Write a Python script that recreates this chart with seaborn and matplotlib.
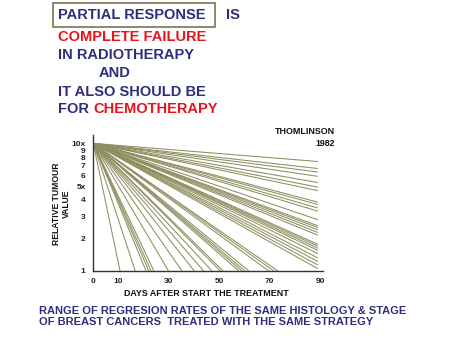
import numpy as np
import pandas as pd
import matplotlib
matplotlib.use("Agg")
import matplotlib.pyplot as plt
from matplotlib.patches import Rectangle
from matplotlib.ticker import NullLocator
import seaborn as sns

# Regression curves: every tumour starts at 10x on day 0.
# Slow responders: value still reached on day 89
end_day_right = 89
right_end_values = [7.5, 6.7, 6.33, 5.9, 5.33, 4.94, 4.66, 3.84, 3.69, 3.47, 3.29,
                    2.83, 2.54, 2.46, 2.36, 2.25, 2.14, 1.8, 1.74, 1.67, 1.6, 1.5,
                    1.37, 1.27, 1.17, 1.07]
# Fast responders: day on which the relative value falls to 1
days_to_one = [10.6, 16.6, 20.9, 22.0, 22.9, 24.0, 29.8, 35.1, 40.0, 43.7, 47.0,
               50.3, 51.4, 57.6, 58.9, 60.1, 61.6, 69.5, 71.5, 73.1]
start_value = 10

y_ticks = [1, 2, 3, 4, 5, 6, 7, 8, 9, 10]
y_ticklabels = ["1", "2", "3", "4", "5x", "6", "7", "8", "9", "10x"]
x_ticks = [0, 10, 20, 30, 40, 50, 60, 70, 80, 90]
x_ticklabels = ["0", "10", "", "30", "", "50", "", "70", "", "90"]

rows = []
lid = 0
for v in right_end_values:
    rows += [(lid, 0, start_value), (lid, end_day_right, v)]
    lid += 1
for d in days_to_one:
    rows += [(lid, 0, start_value), (lid, d, 1)]
    lid += 1
df = pd.DataFrame(rows, columns=["line", "day", "value"])

sns.set_style("white")
plt.rcParams["font.family"] = ["Liberation Sans", "DejaVu Sans"]

W, H = 452, 339
fig = plt.figure(figsize=(W / 100, H / 100), dpi=100)
fig.patch.set_facecolor("white")


def fx(px):
    return px / W


def fy(py):
    return 1 - py / H


ax = fig.add_axes([0.2064, 0.2015, 0.5073, 0.4003])


def fwd(y):
    return np.log10(np.clip(y, 1, None)) ** 1.15


def inv(u):
    return 10 ** (np.clip(u, 0, None) ** (1 / 1.15))


ax.set_yscale("function", functions=(fwd, inv))

sns.lineplot(data=df, x="day", y="value", units="line", estimator=None,
             color="#8e8e60", lw=0.75, ax=ax, legend=False)

ax.set_xlim(0, 91)
ax.set_ylim(1, 11.4)
ax.set_xticks(x_ticks)
ax.set_xticklabels(x_ticklabels, fontweight="bold")
ax.set_yticks(y_ticks)
ax.set_yticklabels(y_ticklabels, fontweight="bold")
ax.yaxis.set_minor_locator(NullLocator())
ax.set_xlabel("")
ax.set_ylabel("")
ax.tick_params(axis="both", direction="inout", length=5, width=0.8,
               labelsize=6, colors="#222222", pad=3)
for s in ["top", "right"]:
    ax.spines[s].set_visible(False)
for s in ["left", "bottom"]:
    ax.spines[s].set_color("#333333")
    ax.spines[s].set_linewidth(1.0)
ax.grid(False)

# axis titles
fig.text(fx(61.5), fy(204), "RELATIVE TUMOUR\nVALUE", rotation=90,
         ha="center", va="center", fontsize=6.2, fontweight="bold",
         linespacing=1.1, multialignment="center", color="#111111")
fig.text(fx(206.6), fy(294), "DAYS AFTER START THE TREATMENT", ha="center",
         va="center", fontsize=6.4, fontweight="bold", color="#111111")

fig.text(fx(335), fy(131), "THOMLINSON", ha="right", va="center",
         fontsize=6.4, fontweight="bold", color="#111111")
fig.text(fx(335), fy(143), "1982", ha="right", va="center",
         fontsize=6.4, fontweight="bold", color="#111111")

# heading block
navy = "#2e2e7c"
red = "#e8141c"
fs = 10.5
fw = "bold"
fig.add_artist(Rectangle((fx(52.7), fy(26.7)), (215 - 52.7) / W, 23.4 / H,
                         transform=fig.transFigure, fill=False,
                         edgecolor="#7d7352", lw=1.2))
fig.text(fx(58), fy(15), "PARTIAL RESPONSE", ha="left", va="center",
         fontsize=fs, fontweight=fw, color=navy)
fig.text(fx(226), fy(15), "IS", ha="left", va="center", fontsize=fs,
         fontweight=fw, color=navy)
fig.text(fx(57.7), fy(37), "COMPLETE FAILURE", ha="left", va="center",
         fontsize=fs, fontweight=fw, color=red)
fig.text(fx(57.7), fy(55), "IN RADIOTHERAPY", ha="left", va="center",
         fontsize=fs, fontweight=fw, color=navy)
fig.text(fx(98.3), fy(73), "AND", ha="left", va="center", fontsize=fs,
         fontweight=fw, color=navy)
fig.text(fx(57.7), fy(91.7), "IT ALSO SHOULD BE", ha="left", va="center",
         fontsize=fs, fontweight=fw, color=navy)
fig.text(fx(57.7), fy(109.3), "FOR", ha="left", va="center", fontsize=fs,
         fontweight=fw, color=navy)
fig.text(fx(93.3), fy(109.3), "CHEMOTHERAPY", ha="left", va="center",
         fontsize=fs, fontweight=fw, color=red)

# caption
cap = 8.0
fig.text(fx(39.3), fy(310.7), "RANGE OF REGRESION RATES OF THE SAME HISTOLOGY & STAGE",
         ha="left", va="center", fontsize=cap, fontweight=fw, color=navy)
fig.text(fx(39.3), fy(322.3), "OF BREAST CANCERS  TREATED WITH THE SAME STRATEGY",
         ha="left", va="center", fontsize=cap, fontweight=fw, color=navy)

fig.savefig("out.png", dpi=100, facecolor="white")
